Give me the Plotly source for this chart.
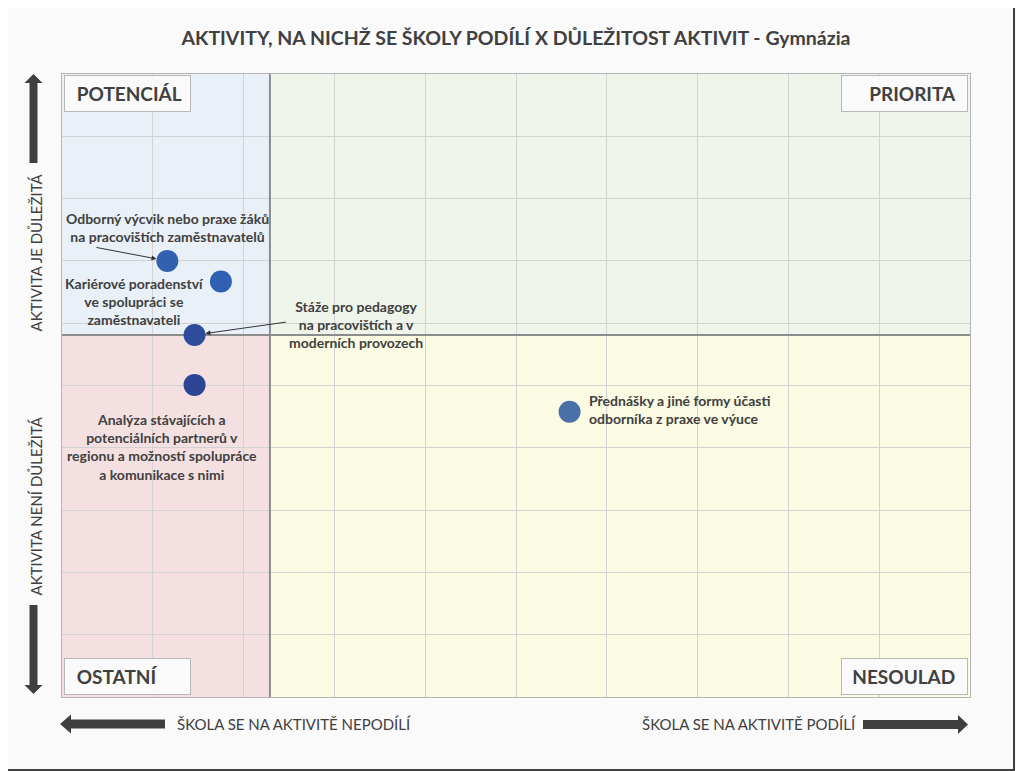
import plotly.graph_objects as go

# ---------------- data ----------------
activities = [
    "Odborný výcvik nebo praxe žáků<br>na pracovištích zaměstnavatelů",
    "Kariérové poradenství<br>ve spolupráci se<br>zaměstnavateli",
    "Stáže pro pedagogy<br>na pracovištích a v<br>moderních provozech",
    "Analýza stávajících a<br>potenciálních partnerů v<br>regionu a možností spolupráce<br>a komunikace s nimi",
    "Přednášky a jiné formy účasti<br>odborníka z praxe ve výuce",
]
participation = [11.6, 17.5, 14.6, 14.6, 55.9]   # x – škola se podílí
importance = [70.0, 66.7, 58.1, 50.1, 45.8]      # y – důležitost
marker_colors = ["#3161AF", "#2F60B3", "#2D4C9C", "#2E4596", "#4A70A8"]

label_x = [11.67, 7.93, 32.35, 10.98, 57.8]
label_y = [75.4, 63.45, 59.75, 40.1, 46.07]
label_anchor = ["center", "center", "center", "center", "left"]
arrow_tails = {0: (3.63, 72.2), 2: (24.8, 60.2)}

x_split = 22.9
y_split = 58.1
x_range = [0, 100]
y_range = [0, 100]

quadrants = ["POTENCIÁL", "PRIORITA", "OSTATNÍ", "NESOULAD"]
title = "<b>AKTIVITY, NA NICHŽ SE ŠKOLY PODÍLÍ X DŮLEŽITOST AKTIVIT - Gymnázia</b>"
y_top_label = "AKTIVITA JE DŮLEŽITÁ"
y_bottom_label = "AKTIVITA NENÍ DŮLEŽITÁ"
x_left_label = "ŠKOLA SE NA AKTIVITĚ NEPODÍLÍ"
x_right_label = "ŠKOLA SE NA AKTIVITĚ PODÍLÍ"

OFF = 8
W, H = 1024 - OFF, 771 - OFF
PL, PR, PT, PB = 62, 970, 74, 697
L, T = PL - OFF, PT - OFF
R, B = W - (PR - OFF), H - (PB - OFF)
PW, PH = PR - PL, PB - PT


def px(xp):
    return (xp - PL) / PW


def py(yp):
    return (PB - yp) / PH


FONT = "Lato"
TXT = "#404040"
ARROW = "#3f3f3f"

fig = go.Figure()
fig.add_trace(go.Scatter(
    x=participation, y=importance, mode="markers",
    marker=dict(size=22, color=marker_colors, line=dict(width=0)),
    hoverinfo="skip", showlegend=False,
))

shapes = []
quad_fill = [
    (x_range[0], x_split, y_split, y_range[1], "#E9F0F8"),
    (x_split, x_range[1], y_split, y_range[1], "#EFF5EA"),
    (x_range[0], x_split, y_range[0], y_split, "#F5E0E1"),
    (x_split, x_range[1], y_range[0], y_split, "#FBFAE2"),
]
for x0, x1, y0, y1, c in quad_fill:
    shapes.append(dict(type="rect", xref="x", yref="y", x0=x0, x1=x1, y0=y0, y1=y1,
                       fillcolor=c, line=dict(width=0), layer="below"))
shapes.append(dict(type="line", xref="x", yref="y", x0=x_split, x1=x_split,
                   y0=y_range[0], y1=y_range[1], line=dict(color="#8C8C8C", width=2), layer="between"))
shapes.append(dict(type="line", xref="x", yref="y", x0=x_range[0], x1=x_range[1],
                   y0=y_split, y1=y_split, line=dict(color="#8C8C8C", width=2), layer="between"))


def arrow_path(points):
    d = "M " + " L ".join(f"{px(a):.5f},{py(b):.5f}" for a, b in points) + " Z"
    return dict(type="path", xref="paper", yref="paper", path=d,
                fillcolor=ARROW, line=dict(width=0), layer="above")


shapes.append(arrow_path([(29.5, 163), (37.5, 163), (37.5, 83), (42.5, 83), (33.5, 74),
                          (24.5, 83), (29.5, 83)]))
shapes.append(arrow_path([(29.5, 605), (37.5, 605), (37.5, 685), (42.5, 685), (33.5, 694),
                          (24.5, 685), (29.5, 685)]))
shapes.append(arrow_path([(165, 719.5), (165, 728.5), (71, 728.5), (71, 733.5), (60, 724),
                          (71, 714.5), (71, 719.5)]))
shapes.append(arrow_path([(863, 720), (863, 729), (958, 729), (958, 734), (968, 724.5),
                          (958, 715), (958, 720)]))
# frame shadow right / bottom (right edge placed within visible area)
shapes.append(dict(type="line", xref="paper", yref="paper", x0=px(1014), x1=px(1014),
                   y0=py(8), y1=py(771), line=dict(color="#404040", width=2)))
shapes.append(dict(type="line", xref="paper", yref="paper", x0=px(0), x1=px(1015),
                   y0=py(770), y1=py(770), line=dict(color="#404040", width=2)))

annotations = []
for i, txt in enumerate(activities):
    annotations.append(dict(x=label_x[i], y=label_y[i], xref="x", yref="y", text=f"<b>{txt}</b>",
                            showarrow=False, xanchor=label_anchor[i], yanchor="middle",
                            align="center" if label_anchor[i] == "center" else "left",
                            font=dict(family=FONT, size=14, color=TXT)))
for i, (tx, ty) in arrow_tails.items():
    annotations.append(dict(x=participation[i], y=importance[i], xref="x", yref="y",
                            ax=tx, ay=ty, axref="x", ayref="y", text="", showarrow=True,
                            arrowhead=2, arrowsize=1, arrowwidth=1, arrowcolor="#333333",
                            standoff=11))

box_specs = [
    (quadrants[0], 64, 75, "left"),
    (quadrants[1], 968, 75, "right"),
    (quadrants[2], 64, 658, "left"),
    (quadrants[3], 968, 658, "right"),
]
for text, xp, yp, side in box_specs:
    pad = "&nbsp;&nbsp;"
    label = f"{pad}<b>{text}</b>" if side == "left" else f"<b>{text}</b>{pad}"
    annotations.append(dict(x=px(xp), y=py(yp), xref="paper", yref="paper",
                            text=label, showarrow=False,
                            xanchor=side, yanchor="top", align=side,
                            width=121, height=31, borderpad=2, borderwidth=1,
                            bordercolor="#B8B8B8", bgcolor="#FAFAFA",
                            font=dict(family=FONT, size=19, color=TXT)))

annotations.append(dict(x=px(35), y=py(252.5), xref="paper", yref="paper", text=y_top_label,
                        showarrow=False, textangle=-90, xanchor="center", yanchor="middle",
                        font=dict(family=FONT, size=15, color=TXT)))
annotations.append(dict(x=px(35), y=py(506.5), xref="paper", yref="paper", text=y_bottom_label,
                        showarrow=False, textangle=-90, xanchor="center", yanchor="middle",
                        font=dict(family=FONT, size=15, color=TXT)))
annotations.append(dict(x=px(175), y=py(724), xref="paper", yref="paper", text=x_left_label,
                        showarrow=False, xanchor="left", yanchor="middle",
                        font=dict(family=FONT, size=15, color=TXT)))
annotations.append(dict(x=px(858), y=py(724), xref="paper", yref="paper", text=x_right_label,
                        showarrow=False, xanchor="right", yanchor="middle",
                        font=dict(family=FONT, size=15, color=TXT)))

axis_common = dict(showticklabels=False, ticks="", dtick=10, showgrid=True,
                   gridcolor="#D2D2D2", gridwidth=1, zeroline=False,
                   showline=True, linecolor="#B4B4B4", linewidth=1, mirror=True, fixedrange=True)

fig.update_layout(
    width=W, height=H,
    margin=dict(l=L, r=R, t=T, b=B, pad=0),
    paper_bgcolor="#FAFAFA", plot_bgcolor="#FAFAFA",
    title=dict(text=title, x=px(516), xanchor="center", xref="paper",
               y=1 - (38 - OFF) / H, yanchor="middle",
               font=dict(family=FONT, size=19.5, color=TXT)),
    xaxis=dict(range=x_range, **axis_common),
    yaxis=dict(range=y_range, **axis_common),
    shapes=shapes, annotations=annotations, showlegend=False,
)

fig.write_html("out.html")
